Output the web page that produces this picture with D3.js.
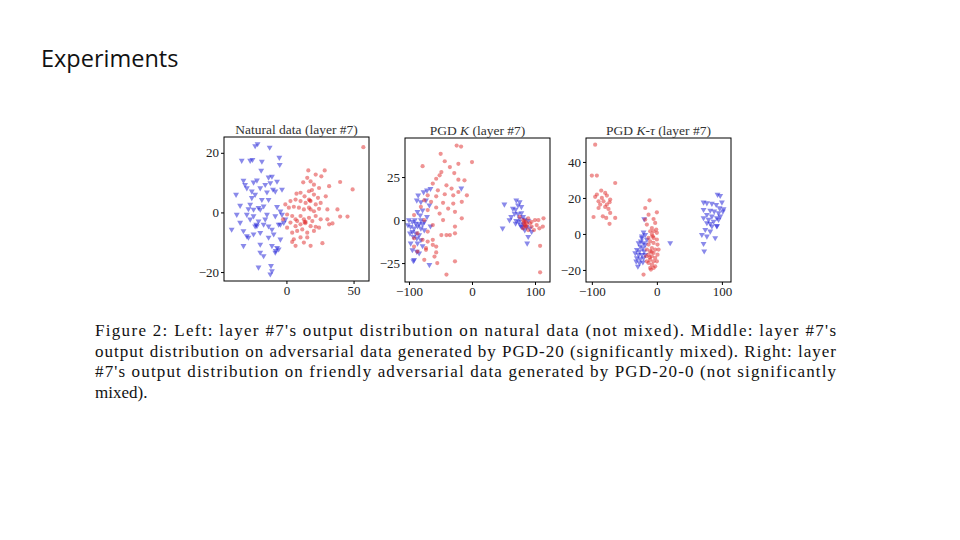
<!DOCTYPE html>
<html>
<head>
<meta charset="utf-8">
<script src="https://cdn.jsdelivr.net/npm/d3@7"></script>
<style>
body { margin: 0; background: #fff; }
</style>
</head>
<body>
<div id="viz"></div>
<script>
// values, [x, y] per point

var natBlue = [[-21.5,23],[-23.3,22.3],[-12.5,21.8],[-33.3,17.4],[-27,17.4],[-25.3,17.7],[-18.3,17.1],[-5.3,18.4],[-5,16],
  [-18.8,14.1],[-32,10.7],[-24.5,10.1],[-13.3,11.8],[-10.8,12.1],[-7,10.4],[-22,10.8],[-30.8,9.3],[-15.8,9.3],[-12,9.9],
  [-29.5,8.2],[-19.5,8.2],[-10,7.7],[-3.3,7.7],[-37.5,6],[-25.8,7.1],[-23.3,6],[-14.5,6.8],[-8.3,7.1],[-25.8,4.9],[-18.3,4.3],
  [-13.3,4.3],[-34.5,2.3],[-27,2.7],[-20.8,1.6],[-17,2.1],[-28.3,1.2],[-24.5,1],[-19.5,1],[-7,1.9],[-4.5,0.4],[-37,-0.7],
  [-29.5,-0.7],[-24.5,-1.2],[-14.5,-0.7],[-8.3,-1.2],[-3.3,-0.7],[-0.8,-2.3],[-40.8,-5.7],[-27,-2.3],[-20.8,-2.9],[-17,-4],
  [-13.3,-4.6],[-23.3,-4.6],[-32,-6.2],[-24.5,-7.3],[-19.5,-6.8],[-10.8,-5.7],[-4.5,-4],[-2,-3.4],[-28.3,-8.4],[-13.3,-8.4],
  [-4.5,-9],[-32,-11.2],[-19.5,-10.7],[-10.8,-11.2],[-7,-11.8],[-5.8,-12.3],[-19.5,-13.4],[-17,-14.6],[-8.3,-13.4],
  [-20.8,-18.4],[-11.5,-17.9],[-12,-20.7],[-10.8,-19.6],[-22.5,-4],[-34.5,-3.4],[-15.8,-2.3],[-9.5,-7.3],[-5.8,-4],[-29.5,-7.9],
  [-22,-4.5],[-8,-12.8]];

var natRed = [[57.3,21.9],[16.3,14.1],[28.5,14.1],[21.8,12.7],[15.5,11.6],[12.5,10.1],[18,10.4],[26,12.1],[40,10.2],[49.3,7.7],
  [20.5,9.3],[16.8,7.1],[24.3,8.2],[31.8,8.8],[7.5,6.3],[10.5,6.6],[13.5,5.4],[16.8,4.3],[20.5,6],[23.5,4.9],[29.3,5.4],
  [3,3.8],[6.8,4.3],[10.5,3.8],[14.3,3.2],[18,3.8],[21.8,2.7],[25.5,3.2],[30.5,1],[38,1],[-0.8,2.7],[1.8,1.6],[5.5,1.9],
  [9.3,1.6],[13,1],[16.8,1.6],[20.5,0.4],[24.3,1.2],[40,-1.4],[45.5,-1.4],[0.5,-0.7],[4.3,-1.2],[6.8,-2.3],[10.5,-1.2],
  [13,-2.3],[14.3,-3.2],[16.8,-1.8],[19.3,-2.9],[21.8,-1.2],[25.5,-2.3],[30.5,-2.3],[34.3,-3.7],[31.8,-4],[3,-3.4],
  [6.8,-4.6],[10.5,-4],[18,-4.6],[21.8,-4.8],[24.3,-5.1],[4.3,-6.8],[8,-6.2],[11.8,-5.7],[15.5,-6.8],[20.5,-6.2],[5.5,-9],
  [10.5,-8.4],[15.5,-8.4],[4.3,-9.9],[6.8,-11.2],[13,-10.1],[18,-11.2],[26.8,-10.3],[0.5,-5.1],[8,-2.9],[-2.5,-2.3],[18,1],
  [13.5,-3.2],[14,-3.6],[17.5,4],[19,7.5]];

var pgdBlue = [[-65.9,18.3],[-71.4,17.3],[-76.8,16.3],[-85.4,14.4],[-87.6,11.5],[-73,11.5],[-81.1,10.6],[-67.6,8.7],[-78.4,5.8],
  [-86.5,4.8],[-100,0],[-94.6,-1],[-89.2,-1.9],[-83.8,-2.3],[-78.4,-2.3],[-75.7,-1],[-97.3,-3.8],[-91.9,-4.8],[-86.5,-3.5],
  [-81.1,-4.8],[-94.6,-6.7],[-89.2,-7.7],[-83.8,-8.7],[-98.4,-7.7],[-75.7,-5.8],[-93,-9.6],[-87.6,-10.6],[-81.1,-11.5],
  [-97.3,-13.5],[-86.5,-13.5],[-78.4,-15],[-94.6,-17.3],[-87.6,-18.3],[-83.8,-19.2],[-91.9,-23.1],[-93,-23.7],[-67.6,-26],
  [-82.2,2.9],[-71.4,1.9],[-101.6,-2.9],[-90.8,0],[-81.1,0],[-65.9,-3.5],[-17,18.5],
  [70.3,11.5],[75.7,10.6],[73,8.7],[78.4,7.7],[51.4,9.2],[64.9,6.7],[69.2,6.2],[67.6,3.8],[73,3.5],[78.4,4.2],[62.2,1.9],
  [59.5,0],[69.2,-1.9],[75.7,1],[81.1,1.9],[83.8,0.4],[89.2,-0.4],[81.1,-1.9],[86.5,-3.8],[91.9,-4.8],[78.4,-3.8],[83.8,-5.8],
  [94.6,-6.7],[89.2,-9.6],[87.6,-13.5],[48.6,-4.8],[70.3,-0.4],[74.6,-1],[76.8,-2.9],[81.1,-4.2]];

var pgdRed = [[-24.3,43.3],[-17.3,42.7],[-49.7,38.5],[-43.2,34.2],[-21.6,32.7],[0,33.7],[-78.4,31.3],[-35.1,30.8],[-48.6,27.9],
  [-51.4,26],[-28.1,27.3],[-56.8,24],[-21.6,23.5],[-11.9,23.1],[-62.2,21.2],[-40.5,20.2],[-32.4,18.3],[-54.1,17.3],[-21.6,16.3],
  [-70.3,14.4],[-56.8,13.8],[-43.2,15],[-29.7,14.4],[-8.1,14.4],[-75.7,11.5],[-64.9,10.6],[-45.9,10],[-29.7,9.6],[-16.2,10.6],
  [-81.1,7.7],[-56.8,7.3],[-37.8,6.7],[-70.3,5.8],[-51.4,3.8],[-27,4.8],[-16.2,1],[-91.9,2.9],[-75.7,0],[-45.9,0],[-27,-3.8],
  [-62.2,-2.9],[-86.5,-7.7],[-70.3,-6.7],[-40.5,-8.7],[-35.1,-8.7],[-27,-7.7],[-91.9,-10.6],[-78.4,-11.5],[-62.2,-14.4],
  [-56.8,-15.4],[-73,-16.3],[-86.5,-18.3],[-56.8,-18.8],[-75.7,-23.1],[-59.5,-21.2],[-55.1,-25],[-27,-24],[-40.5,-31.7],
  [-73,-17.3],[-91.9,-15.4],[-62.2,-11.5],[-70.3,-12.5],[-48.6,-8.7],
  [75.7,1.9],[81.1,0],[86.5,-1.9],[89.2,1],[94.6,-3.8],[100,0],[102.7,-2.9],[107,-4.8],[112.4,-3.8],[94.6,-1],[89.2,-5.8],
  [81.1,-4.8],[83.8,-2.9],[85.4,-1],[98.4,-5.8],[113.5,1],[105.4,0],[108.1,-15],[108.1,-30.4],[91.9,-1.9],[86.5,-3.8],
  [82.2,-1.9],[85,-3.5],[83,-0.5]];

var fatBlue = [[-19.5,8.3],[-20.5,0.9],[-17.9,-0.4],[-23.1,-2.2],[-24.6,-4.1],[-20.5,-5],[-28.2,-5],[-17.9,-5.9],[-25.6,-6.9],
  [-21.5,-7.8],[-30.8,-8.7],[-26.7,-9.6],[-19.5,-9.6],[-33.3,-10.6],[-28.2,-11.5],[-23.1,-11.5],[-17.9,-11.5],[-30.8,-13.3],
  [-25.6,-13.9],[-20.5,-13.3],[-31.8,-15.2],[-26.7,-16.1],[-21.5,-15.7],[-29.2,-18],[20.5,-5],[-23.1,-1.3],[-15.4,-3.1],
  [93.3,21.9],[97.4,21.3],[100,17.6],[71.8,17.6],[76.9,17.2],[84.6,16.9],[91.3,16.3],[96.4,14.4],[102.6,13.9],[71.8,13.5],
  [82.1,13.1],[88.2,12.6],[94.9,11.7],[101.5,12.6],[76.9,10.7],[84.6,9.8],[92.3,8.9],[71.8,8.9],[79.5,8],[87.2,7],[94.9,8],
  [76.9,6.1],[84.6,4.3],[92.3,4.6],[74.4,2.4],[82.1,1.5],[69.2,-0.4],[76.9,-1.3],[89.7,-2.2],[71.8,-5.4],[72.8,-9.6],
  [97.4,9.8],[92.3,4.3],[82.1,5.7]];

var fatRed = [[-94.9,49.6],[-100,32.4],[-92.3,32.4],[-64.1,28.3],[-85.6,24.1],[-92.3,21.9],[-79.5,22.8],[-94.9,20.6],[-84.6,20],
  [-76.9,21.3],[-89.7,18.1],[-82.1,18.1],[-72.8,17.6],[-71.8,19.1],[-87.2,16.3],[-79.5,15],[-74.4,13.9],[-71.8,11.7],
  [-83.1,9.8],[-77.9,8.9],[-64.1,8.9],[-72.8,5.6],[-97.4,9.4],[-89.7,14.4],[-76.9,16.3],
  [-11.3,18.7],[-17.9,14.4],[0,12],[-12.8,10.7],[-17.9,8],[-5.1,8.3],[-2.6,6.1],[-15.4,5.2],[-7.7,3.3],[-10.3,1.5],[-5.1,1.5],
  [0,0.6],[-7.7,-0.4],[-12.8,-2.2],[-5.1,-2.2],[0,-3.1],[-10.3,-4.1],[-5.1,-5],[1,-5.9],[-12.8,-5.9],[-7.7,-7.8],[-2.6,-8.7],
  [-10.3,-9.6],[-5.1,-10.6],[1,-11.5],[-12.8,-11.5],[-7.7,-12.4],[-2.6,-13.3],[-10.3,-14.3],[-5.1,-15.2],[-12.8,-16.1],
  [-7.7,-17],[-2.6,-18],[-10.3,-18.9],[-15.4,-15.2],[0,-15.2],[-20.5,-22.6],[2.6,-8.7],[-15.4,-8.7],[-16.4,-12.4],
  [-5.1,-18.9],[-9.2,-19.8],[-6.2,-1.3],[-1,2.4],[-8,-10],[-11,-13]];

// title pieces: [text, italic?]
var titles = [
  [["Natural data (layer #7)", false]],
  [["PGD ", false], ["K", true], [" (layer #7)", false]],
  [["PGD ", false], ["K", true], ["-", false], ["τ", true], [" (layer #7)", false]]
];

var xTicks = [[0, 50], [-100, 0, 100], [-100, 0, 100]];
var yTicks = [[-20, 0, 20], [-25, 0, 25], [-20, 0, 20, 40]];

var xDomains = [[-46.5, 61.5], [-106.3, 123.8], [-109, 114]];
var yDomains = [[-23, 25.3], [-36, 47.7], [-26.7, 53.3]];

var captionLines = [
  "Figure 2: Left: layer #7's output distribution on natural data (not mixed). Middle: layer #7's",
  "output distribution on adversarial data generated by PGD-20 (significantly mixed). Right: layer",
  "#7's output distribution on friendly adversarial data generated by PGD-20-0 (not significantly",
  "mixed)."
];

var width = 960;
var height = 540;

var canvas = d3.select("#viz")
  .append("svg")
  .attr("width", width)
  .attr("height", height);

canvas.append("text")
  .attr("x", 41)
  .attr("y", 67)
  .attr("font-family", "Open Sans")
  .attr("font-size", 23.5)
  .attr("fill", "#111")
  .text("Experiments");

var panels = [
  {left: 224, top: 137, blue: natBlue, red: natRed},
  {left: 405, top: 138, blue: pgdBlue, red: pgdRed},
  {left: 586, top: 138, blue: fatBlue, red: fatRed}
];
var pw = 145, ph = 144;

var triangle = d3.symbol().type(d3.symbolTriangle).size(15);

var fmt = function(d){ return d < 0 ? "\u2212" + Math.abs(d) : d; };

panels.forEach(function(p, i) {
  var xScale = d3.scaleLinear().domain(xDomains[i]).range([0, pw]);
  var yScale = d3.scaleLinear().domain(yDomains[i]).range([ph, 0]);

  var g = canvas.append("g")
    .attr("transform", "translate(" + p.left + "," + p.top + ")");

  var xAxis = d3.axisBottom(xScale).tickValues(xTicks[i]).tickSize(3).tickPadding(2).tickFormat(fmt);
  var yAxis = d3.axisLeft(yScale).tickValues(yTicks[i]).tickSize(3).tickPadding(2).tickFormat(fmt);

  g.append("g")
    .attr("transform", "translate(0," + ph + ")")
    .call(xAxis);
  g.append("g")
    .call(yAxis);

  g.selectAll(".tick text")
    .attr("font-family", "Liberation Serif")
    .attr("font-size", 13)
    .attr("fill", "#222");
  g.selectAll(".domain").remove();

  g.append("g").selectAll("path")
    .data(p.blue)
    .enter()
      .append("path")
      .attr("d", triangle)
      .attr("transform", function(d){ return "translate(" + xScale(d[0]) + "," + yScale(d[1]) + ") rotate(180)"; })
      .attr("fill", "#2a2ad8")
      .attr("fill-opacity", 0.55);

  g.append("g").selectAll("circle")
    .data(p.red)
    .enter()
      .append("circle")
      .attr("r", 2.1)
      .attr("cx", function(d){ return xScale(d[0]); })
      .attr("cy", function(d){ return yScale(d[1]); })
      .attr("fill", "#e02828")
      .attr("fill-opacity", 0.5);

  g.append("rect")
    .attr("width", pw)
    .attr("height", ph)
    .attr("fill", "none")
    .attr("stroke", "#000")
    .attr("stroke-width", 1);

  var t = g.append("text")
    .attr("x", pw / 2)
    .attr("y", -3)
    .attr("text-anchor", "middle")
    .attr("font-family", "Liberation Serif")
    .attr("font-size", 13.5)
    .attr("fill", "#333");
  t.selectAll("tspan")
    .data(titles[i])
    .enter()
      .append("tspan")
      .attr("font-style", function(d){ return d[1] ? "italic" : "normal"; })
      .text(function(d){ return d[0]; });
});

canvas.append("g").selectAll("text")
  .data(captionLines)
  .enter()
    .append("text")
    .attr("x", 95)
    .attr("y", function(d, i){ return 336 + i * 20.5; })
    .attr("font-family", "Liberation Serif")
    .attr("font-size", 17)
    .attr("fill", "#111")
    .each(function(d, i) {
      if (i < captionLines.length - 1) {
        d3.select(this).attr("textLength", 741).attr("lengthAdjust", "spacing");
      }
    })
    .text(function(d){ return d; });
</script>
</body>
</html>
